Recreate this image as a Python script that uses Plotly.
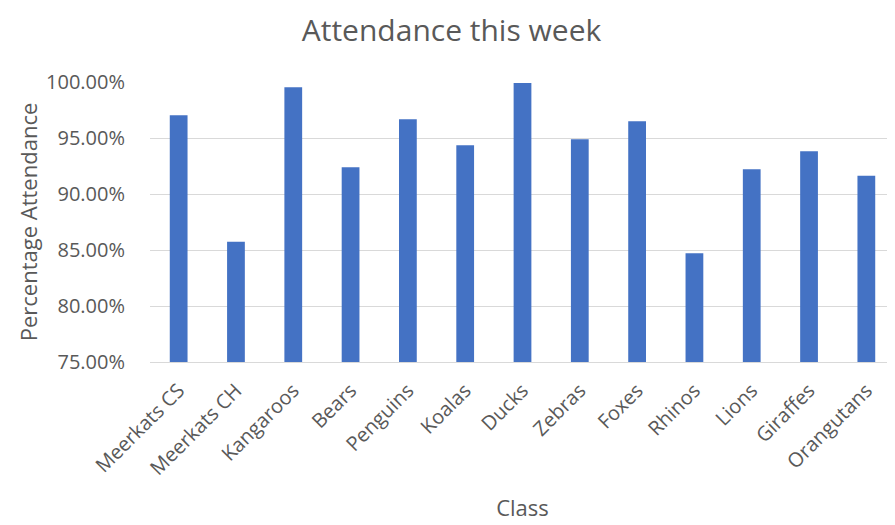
import plotly.graph_objects as go

classes = ["Meerkats CS", "Meerkats CH", "Kangaroos", "Bears", "Penguins", "Koalas",
           "Ducks", "Zebras", "Foxes", "Rhinos", "Lions", "Giraffes", "Orangutans"]
attendance = [0.9703, 0.8574, 0.9954, 0.9238, 0.9667, 0.9435, 0.9990, 0.9488,
              0.9649, 0.8470, 0.9220, 0.9381, 0.9164]
y_ticks = [0.75, 0.80, 0.85, 0.90, 0.95, 1.00]

FONT = "Open Sans"
GREY = "#595959"

fig = go.Figure(go.Bar(x=classes, y=attendance, marker=dict(color="#4472C4", line=dict(width=0))))

fig.update_layout(
    width=887, height=517,
    margin=dict(l=142, r=0, t=74, b=163),
    paper_bgcolor="white", plot_bgcolor="white",
    bargap=0.69,
    showlegend=False,
    font=dict(family=FONT, color=GREY),
    title=dict(text="Attendance this week", x=0.5, xanchor="center", xref="container",
               y=1 - 22 / 517, yanchor="middle", yref="container",
               font=dict(family=FONT, size=30, color=GREY)),
)
fig.update_yaxes(
    range=[0.75, 1.0], tickvals=y_ticks, tickformat=".2%",
    showgrid=True, gridcolor="#d9d9d9", gridwidth=1,
    zeroline=False, showline=False, ticks="",
    tickfont=dict(family=FONT, size=20, color=GREY),
    ticklabelstandoff=24,
    title=dict(text="Percentage Attendance", font=dict(family=FONT, size=22, color=GREY), standoff=2),
)
fig.update_xaxes(
    tickangle=-45, showgrid=False, showline=True, linecolor="#d9d9d9", linewidth=1,
    ticks="", tickfont=dict(family=FONT, size=20, color=GREY),
    ticklabelstandoff=8,
    title=dict(text="Class", font=dict(family=FONT, size=22, color=GREY), standoff=20),
)

fig.write_html("out.html")
